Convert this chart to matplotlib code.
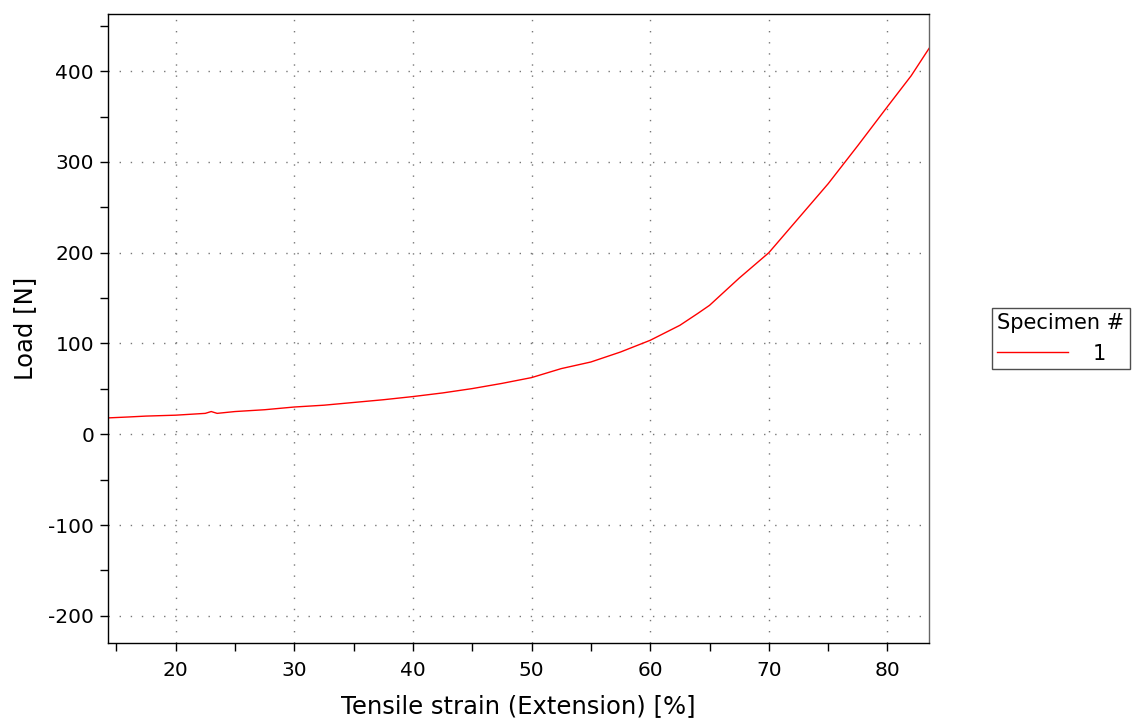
import matplotlib
matplotlib.use("Agg")
import matplotlib.pyplot as plt
from matplotlib.ticker import MultipleLocator

strain = [14.3, 16.0, 17.5, 20.0, 22.5, 23.0, 23.5, 25.0, 27.5, 30.0, 32.5, 35.0,
          37.5, 40.0, 42.5, 45.0, 47.5, 50.0, 52.5, 55.0, 57.5, 60.0, 62.5, 64.0,
          65.0, 67.5, 70.0, 72.5, 75.0, 77.5, 80.0, 82.0, 83.5]
load = [18, 19, 20, 21, 23, 25, 23, 25, 27, 30, 32, 35,
        38, 41.5, 45.5, 50.3, 56, 62.4, 72.3, 79.6, 90.6, 103.5, 120, 133,
        142, 172, 200, 238, 276, 318, 361, 395, 425]
specimen_label = "1"

plt.rcParams['font.family'] = ['DejaVu Sans']
plt.rcParams['axes.unicode_minus'] = False

fig = plt.figure(figsize=(11.38, 7.27), dpi=100)
ax = fig.add_axes([108/1138, 84/727, (929-108)/1138, (643-14)/727])

ax.plot(strain, load, color='#ff0000', lw=1.0, label=specimen_label)

ax.set_xlim(14.3, 83.5)
ax.set_ylim(-230, 463)
ax.xaxis.set_major_locator(MultipleLocator(10))
ax.xaxis.set_minor_locator(MultipleLocator(5))
ax.yaxis.set_major_locator(MultipleLocator(100))
ax.yaxis.set_minor_locator(MultipleLocator(50))
ax.tick_params(which='both', direction='out', length=6, width=1, labelsize=14.5,
               top=False, right=False, pad=4)
ax.tick_params(axis='x', which='both', pad=7)
ax.grid(True, which='major', color='#777777', lw=1.0, linestyle=(0, (1, 7)))

for s in ax.spines.values():
    s.set_linewidth(1.0)
ax.spines['right'].set_color('#666666')

ax.set_xlabel("Tensile strain (Extension) [%]", fontsize=17.5, labelpad=10)
ax.set_ylabel("Load [N]", fontsize=17.5, labelpad=8)

leg = fig.legend(loc='upper left', bbox_to_anchor=(992/1138, 1 - 308/727),
                 title="Specimen #", fontsize=15, title_fontsize=15,
                 frameon=True, fancybox=False, edgecolor='#222222',
                 handlelength=3.4, handletextpad=1.2, borderpad=0.25,
                 borderaxespad=0)
leg._legend_box.align = "left"
leg.get_frame().set_linewidth(1.0)

fig.savefig("out.png", dpi=100)
